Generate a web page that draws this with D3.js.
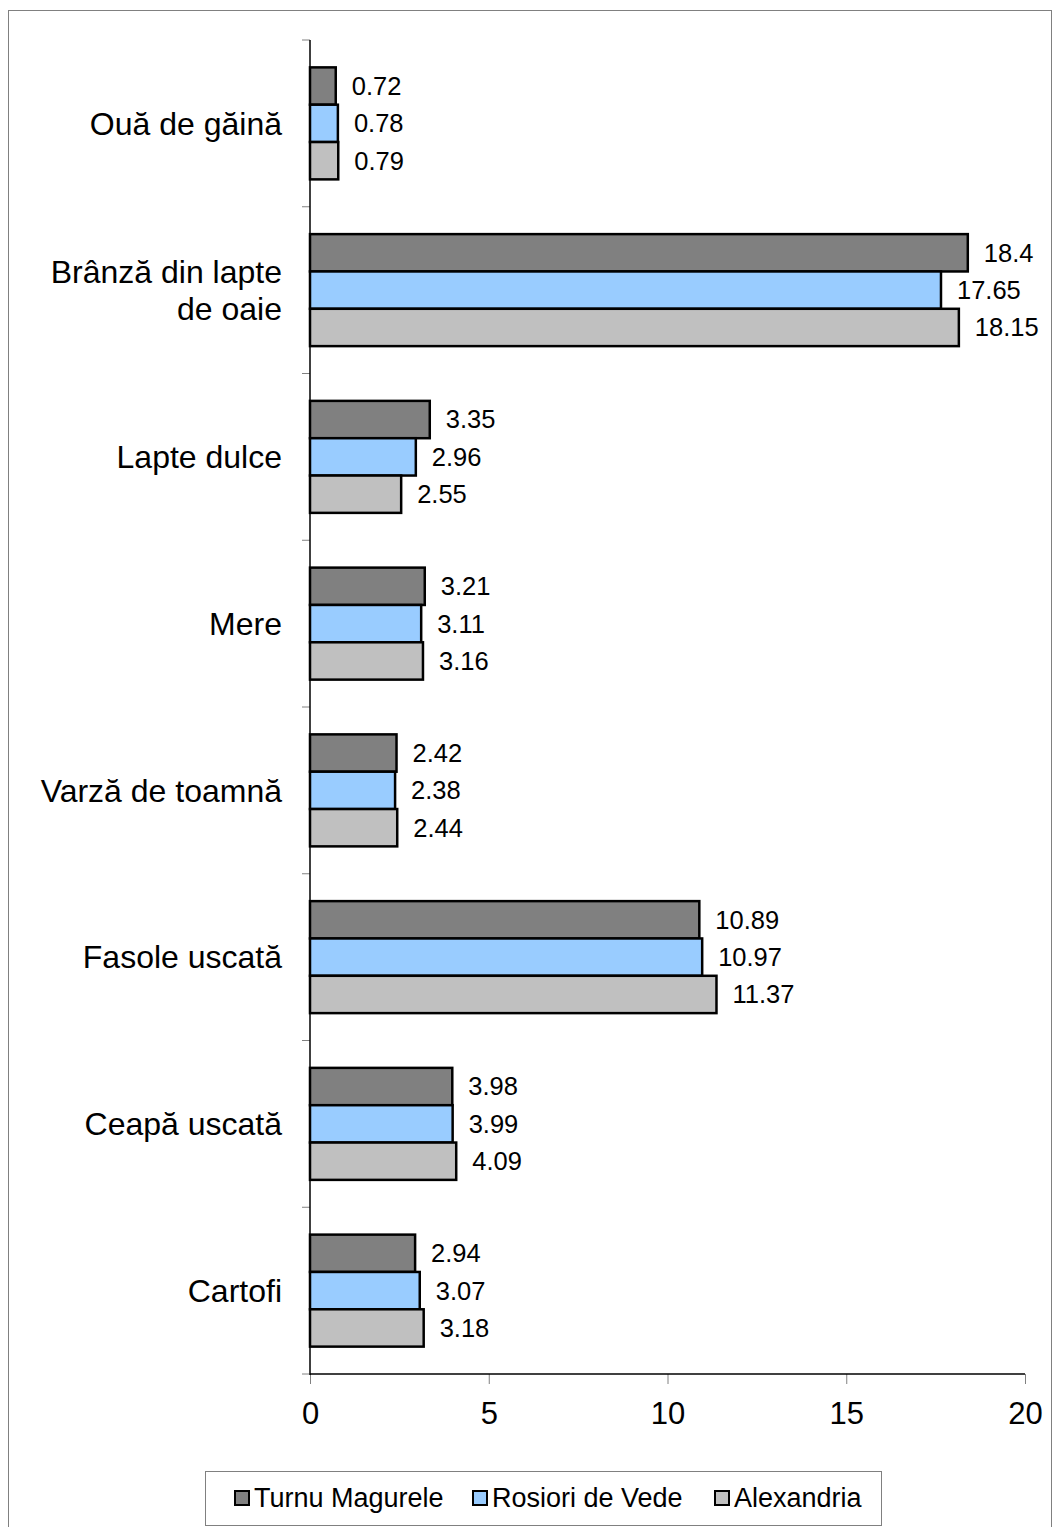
<!DOCTYPE html>
<html>
<head>
<meta charset="utf-8">
<script src="https://cdn.jsdelivr.net/npm/d3@7"></script>
<style>
  body { margin: 0; background: #fff; }
  text { font-family: "Liberation Sans", Arial, sans-serif; fill: #000; }
</style>
</head>
<body>
<div id="chart-area"></div>
<script>
// categories from top to bottom
const categories = ['Ouă de găină', 'Brânză din lapte\nde oaie', 'Lapte dulce', 'Mere',
  'Varză de toamnă', 'Fasole uscată', 'Ceapă uscată', 'Cartofi'];
const seriesNames = ['Turnu Magurele', 'Rosiori de Vede', 'Alexandria'];
const turnuMagurele = [0.72, 18.4, 3.35, 3.21, 2.42, 10.89, 3.98, 2.94];
const rosioriDeVede = [0.78, 17.65, 2.96, 3.11, 2.38, 10.97, 3.99, 3.07];
const alexandria = [0.79, 18.15, 2.55, 3.16, 2.44, 11.37, 4.09, 3.18];
const xTicks = [0, 5, 10, 15, 20];
const colors = ['#808080', '#99ccff', '#c0c0c0'];

const W = 1053, H = 1527;
const plot = { left: 310, right: 1025, top: 40, bottom: 1374 };

main();

function main() {
  const svg = d3.select('#chart-area').append('svg')
    .attr('width', W)
    .attr('height', H);

  // outer frame
  svg.append('rect')
    .attr('x', 8.5).attr('y', 10.5)
    .attr('width', 1043).attr('height', 1540)
    .attr('fill', 'none')
    .attr('stroke', '#808080')
    .attr('stroke-width', 1);

  const values = [turnuMagurele, rosioriDeVede, alexandria];
  const rows = categories.map((c, i) => ({
    category: c,
    bars: seriesNames.map((s, j) => ({ series: s, value: values[j][i], color: colors[j] }))
  }));

  const x = d3.scaleLinear().domain([0, 20]).range([plot.left, plot.right]);
  const y = d3.scaleBand().domain(categories).range([plot.top, plot.bottom]);
  const groupH = 112;
  const yInner = d3.scaleBand().domain(seriesNames)
    .range([(y.bandwidth() - groupH) / 2, (y.bandwidth() + groupH) / 2]);

  // X axis
  const xAxis = d3.axisBottom(x)
    .tickValues(xTicks)
    .tickSize(10)
    .tickSizeOuter(0)
    .tickPadding(18);
  const gx = svg.append('g')
    .attr('transform', `translate(0, ${plot.bottom})`)
    .call(xAxis);
  gx.select('.domain').remove();
  gx.selectAll('.tick line').attr('stroke', '#808080');
  gx.selectAll('.tick text')
    .attr('font-size', 31)
    .attr('font-family', '"Liberation Sans", Arial, sans-serif')
    .attr('fill', '#000');

  // Y axis ticks at category boundaries
  const boundaries = categories.map(c => y(c)).concat([plot.bottom]);
  svg.append('g').selectAll('line')
    .data(boundaries)
    .enter()
    .append('line')
    .attr('x1', plot.left - 8).attr('x2', plot.left)
    .attr('y1', d => d).attr('y2', d => d)
    .attr('stroke', '#808080');

  // axis lines
  svg.append('line')
    .attr('x1', plot.left).attr('x2', plot.left)
    .attr('y1', plot.top).attr('y2', plot.bottom + 1)
    .attr('stroke', '#000').attr('stroke-width', 1.5);
  svg.append('line')
    .attr('x1', plot.left).attr('x2', plot.right)
    .attr('y1', plot.bottom).attr('y2', plot.bottom)
    .attr('stroke', '#000').attr('stroke-width', 1.5);

  // category labels
  const labels = svg.append('g').selectAll('text')
    .data(categories)
    .enter()
    .append('text')
    .attr('text-anchor', 'end')
    .attr('font-size', 32)
    .attr('x', 282);
  labels.each(function (d) {
    const lines = d.split('\n');
    const cy = y(d) + y.bandwidth() / 2;
    const lh = 37;
    d3.select(this).selectAll('tspan')
      .data(lines)
      .enter()
      .append('tspan')
      .attr('x', 282)
      .attr('y', (l, i) => cy + (i - (lines.length - 1) / 2) * lh)
      .attr('dy', '0.35em')
      .text(l => l);
  });

  // bars
  const groups = svg.append('g').selectAll('g')
    .data(rows)
    .enter()
    .append('g')
    .attr('transform', d => `translate(0, ${y(d.category)})`);

  groups.selectAll('rect')
    .data(d => d.bars)
    .enter()
    .append('rect')
    .attr('x', x(0))
    .attr('y', d => yInner(d.series))
    .attr('width', d => x(d.value) - x(0))
    .attr('height', yInner.bandwidth())
    .attr('fill', d => d.color)
    .attr('stroke', '#000')
    .attr('stroke-width', 2.5);

  groups.selectAll('text')
    .data(d => d.bars)
    .enter()
    .append('text')
    .attr('x', d => x(d.value) + 16)
    .attr('y', d => yInner(d.series) + yInner.bandwidth() / 2)
    .attr('dy', '0.35em')
    .attr('font-size', 25.5)
    .text(d => d.value);

  // legend
  const legend = svg.append('g');
  legend.append('rect')
    .attr('x', 205.5).attr('y', 1471.5)
    .attr('width', 676).attr('height', 54)
    .attr('fill', '#fff')
    .attr('stroke', '#808080');
  const legendX = [235, 473, 715];
  const items = legend.selectAll('g.item')
    .data(seriesNames)
    .enter()
    .append('g')
    .attr('class', 'item')
    .attr('transform', (d, i) => `translate(${legendX[i]}, 1498)`);
  items.append('rect')
    .attr('x', 0).attr('y', -7)
    .attr('width', 14).attr('height', 14)
    .attr('fill', (d, i) => colors[i])
    .attr('stroke', '#000')
    .attr('stroke-width', 2);
  items.append('text')
    .attr('x', 19)
    .attr('dy', '0.35em')
    .attr('font-size', 27)
    .text(d => d);
}
</script>
</body>
</html>
